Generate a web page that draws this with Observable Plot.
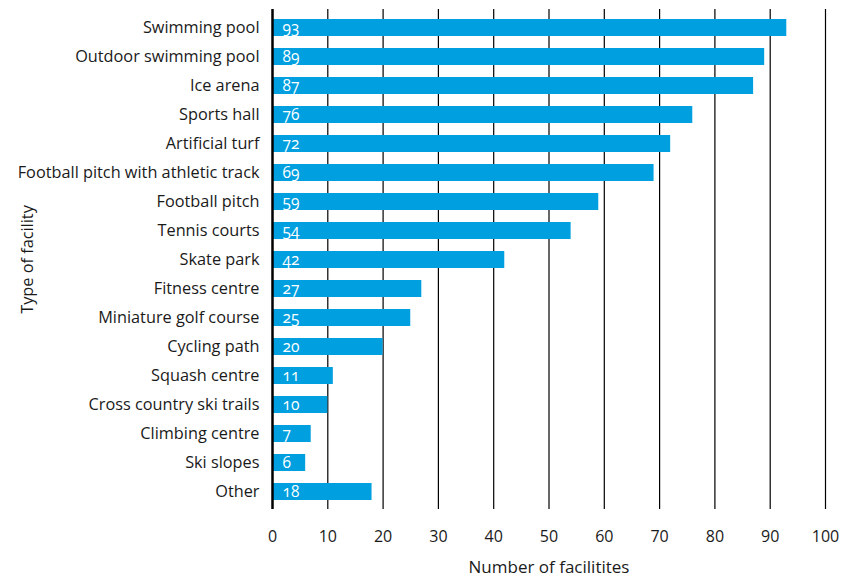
<!DOCTYPE html>
<html>
<head>
<meta charset="utf-8">
<script src="https://cdn.jsdelivr.net/npm/d3@7"></script>
<script src="https://cdn.jsdelivr.net/npm/@observablehq/plot@0.6"></script>
<style>
  body { margin: 0; background: #fff; }
  #chart svg { font-family: "Open Sans", Lato, sans-serif; font-variant-numeric: oldstyle-nums; }
</style>
</head>
<body>
<div id="chart"></div>
<script>
const facilities = [
  "Swimming pool", "Outdoor swimming pool", "Ice arena", "Sports hall", "Artificial turf",
  "Football pitch with athletic track", "Football pitch", "Tennis courts", "Skate park",
  "Fitness centre", "Miniature golf course", "Cycling path", "Squash centre",
  "Cross country ski trails", "Climbing centre", "Ski slopes", "Other"
];
const counts = [93, 89, 87, 76, 72, 69, 59, 54, 42, 27, 25, 20, 11, 10, 7, 6, 18];
const xTicks = [0, 10, 20, 30, 40, 50, 60, 70, 80, 90, 100];
const xLabel = "Number of facilitites";
const yLabel = "Type of facility";

const data = facilities.map((f, i) => ({facility: f, count: counts[i]}));

const chart = Plot.plot({
  width: 843,
  height: 576,
  marginLeft: 272,
  marginRight: 18,
  marginTop: 9,
  marginBottom: 67,
  style: {fontSize: "16px", color: "#1a1a1a"},
  x: {domain: [0, 100]},
  y: {domain: facilities, padding: 0},
  marks: [
    Plot.ruleX(xTicks.filter(d => d > 0), {stroke: "#000", strokeWidth: 1.2}),
    Plot.barX(data, {x: "count", y: "facility", fill: "#009fdf", insetTop: 6, insetBottom: 6}),
    Plot.ruleX([0], {stroke: "#000", strokeWidth: 2.5}),
    Plot.text(data, {x: 0, y: "facility", text: d => String(d.count), textAnchor: "start", dx: 10, fill: "#fff", fontSize: 15.5}),
    Plot.axisX(xTicks, {tickSize: 0, tickPadding: 21, fontSize: 16, label: null}),
    Plot.text([xLabel], {frameAnchor: "bottom", dy: 63, fontSize: 17, fill: "#1a1a1a"}),
    Plot.axisY({tickSize: 0, tickPadding: 13, fontSize: 16.3, label: yLabel, labelAnchor: "center", labelArrow: "none", labelOffset: 251})
  ]
});
document.getElementById("chart").appendChild(chart);
</script>
</body>
</html>
